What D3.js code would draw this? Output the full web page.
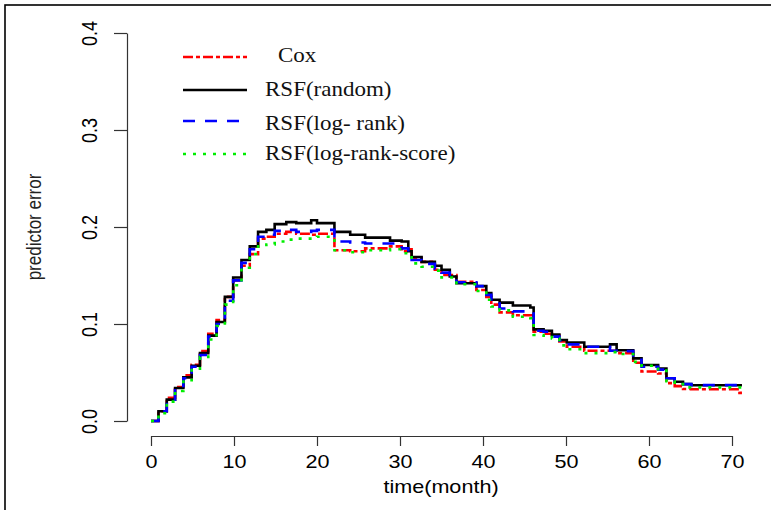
<!DOCTYPE html>
<html>
<head>
<meta charset="utf-8">
<script src="https://cdn.jsdelivr.net/npm/d3@7"></script>
<style>
  body { margin: 0; background: #fff; }
  svg { display: block; }
</style>
</head>
<body>
<div id="chart"></div>
<script>
// shared evaluation grid (months)
const times = [0, 0.9, 1.9, 2.9, 3.9, 4.9, 5.9, 6.9, 7.9, 8.9, 9.9, 10.9, 11.9, 12.9, 13.9, 14.9,
  16.3, 17.5, 19.3, 20, 22.1, 24, 25.8, 28.8, 30.2, 31, 31.4, 32.6, 34.2, 35, 36, 36.8,
  39.2, 40.4, 41, 42, 43.6, 45.7, 46.1, 47.3, 48.3, 49.2, 50.1, 52.2, 55.3, 56.1, 58.1, 59.1,
  61.1, 62.1, 63.1, 64.1, 65.1, 70.9, 71.2];

const cox = [0, .010, .024, .035, .047, .058, .072, .090, .104, .128, .145, .160, .172, .188, .190, .193,
  .195, .193, .192, .193, .176, .175, .178, .180, .175, .177, .168, .164, .156, .1505, .1505, .1436,
  .135, .128, .120, .112, .109, .109, .092, .090, .088, .082, .0766, .0725, .0725, .070, .060, .051,
  .049, .039, .036, .033, .0327, .029, .029];

const rsfRandom = [0, .010, .022, .034, .045, .057, .070, .088, .102, .128, .148, .166, .180, .195, .197, .203,
  .205, .204, .207, .204, .195, .192, .189, .186, .185, .175, .169, .164, .160, .156, .149, .142,
  .139, .132, .125, .122, .119, .117, .0945, .093, .089, .0835, .081, .0766, .079, .073, .0646, .0577,
  .054, .044, .0405, .038, .0368, .0368, .0368];

const rsfLogRank = [0, .010, .022, .033, .044, .056, .068, .087, .100, .124, .145, .163, .177, .190, .192, .196,
  .197, .195, .196, .197, .185, .184, .183, .183, .178, .176, .166, .162, .157, .153, .147, .143,
  .139, .130, .124, .116, .113, .113, .093, .092, .087, .083, .079, .0766, .0725, .072, .063, .056,
  .053, .044, .040, .038, .037, .037, .037];

const rsfLogRankScore = [0, .008, .020, .031, .042, .054, .066, .084, .098, .120, .140, .158, .172, .180, .182, .185,
  .187, .188, .188, .190, .176, .174, .176, .177, .173, .172, .1625, .159, .155, .148, .148, .141,
  .134, .125, .118, .114, .1075, .106, .0887, .088, .085, .078, .074, .070, .071, .069, .061, .057,
  .052, .041, .038, .0347, .0347, .0347, .0347];

const xTicks = [0, 10, 20, 30, 40, 50, 60, 70];
const yTicks = [0, 0.1, 0.2, 0.3, 0.4];

const series = [
  { name: "Cox", values: cox, color: "#ff0000", dash: "10,3,4,3", textX: 278 },
  { name: "RSF(random)", values: rsfRandom, color: "#000000", dash: null, textX: 265 },
  { name: "RSF(log- rank)", values: rsfLogRank, color: "#0000ff", dash: "12,10", textX: 265 },
  { name: "RSF(log-rank-score)", values: rsfLogRankScore, color: "#00ee00", dash: "3,7", textX: 265 },
];

const width = 771, height = 510;
const sans = "'Liberation Sans', Arial, sans-serif";
const serif = "'Liberation Serif', 'Times New Roman', serif";

let svg = d3.select("#chart").append("svg").attr("width", width).attr("height", height);

// outer frame (cropped at right/bottom)
svg.append("rect")
  .attr("x", 5).attr("y", 5).attr("width", 900).attr("height", 700)
  .attr("fill", "none").attr("stroke", "#000").attr("stroke-width", 1.6);

let xScale = d3.scaleLinear().domain([0, 70]).range([151, 732]);
let yScale = d3.scaleLinear().domain([0, 0.4]).range([421, 33]);

// x axis
let xAxis = svg.append("g")
  .attr("class", "x-axis")
  .attr("transform", "translate(0,436)")
  .call(d3.axisBottom(xScale).tickValues(xTicks).tickSize(10).tickSizeOuter(0));
xAxis.selectAll("text")
  .attr("y", 32).attr("dy", null)
  .attr("transform", "scale(1.2,1)")
  .style("font-family", sans).style("font-size", "18px").attr("fill", "#000");

// y axis
let yAxis = svg.append("g")
  .attr("class", "y-axis")
  .attr("transform", "translate(127,0)")
  .call(d3.axisLeft(yScale).tickValues(yTicks).tickSize(13).tickSizeOuter(0).tickFormat(d3.format(".1f")));
yAxis.selectAll("text")
  .attr("x", 0).attr("y", 0).attr("dy", null)
  .attr("text-anchor", "middle")
  .attr("transform", "translate(-30,0) rotate(-90) scale(1,1.2)")
  .style("font-family", sans).style("font-size", "18px").attr("fill", "#000");

svg.selectAll(".domain").attr("stroke", "#333").attr("stroke-width", 1.2);
svg.selectAll(".tick line").attr("stroke", "#333").attr("stroke-width", 1.2);

// axis titles
svg.append("text")
  .attr("transform", "translate(441,493) scale(1.2,1)")
  .attr("text-anchor", "middle")
  .style("font-family", sans).style("font-size", "18px").attr("fill", "#000")
  .text("time(month)");

svg.append("text")
  .attr("transform", "translate(41,227) rotate(-90) scale(1,1.2)")
  .attr("text-anchor", "middle")
  .style("font-family", sans).style("font-size", "17px").attr("fill", "#222")
  .text("predictor error");

// step curves
let line = d3.line()
  .curve(d3.curveStepAfter)
  .x((d, i) => xScale(times[i]))
  .y((d) => yScale(d));

let plot = svg.append("g");
series.forEach((s) => {
  plot.append("path")
    .datum(s.values)
    .attr("d", line)
    .attr("fill", "none")
    .attr("stroke", s.color)
    .attr("stroke-width", 2.6)
    .attr("stroke-dasharray", s.dash);
});

// legend
const legendLineY = [57, 90, 121, 154];
const legendTextY = [62, 96, 130, 160];
let legend = svg.append("g").attr("class", "legend");
series.forEach((s, i) => {
  legend.append("line")
    .attr("x1", 183).attr("x2", 247)
    .attr("y1", legendLineY[i]).attr("y2", legendLineY[i])
    .attr("stroke", s.color)
    .attr("stroke-width", 2.6)
    .attr("stroke-dasharray", s.dash);
  legend.append("text")
    .attr("transform", `translate(${s.textX},${legendTextY[i]}) scale(1.15,1)`)
    .style("font-family", serif).style("font-size", "20px").attr("fill", "#111")
    .text(s.name);
});
</script>
</body>
</html>
